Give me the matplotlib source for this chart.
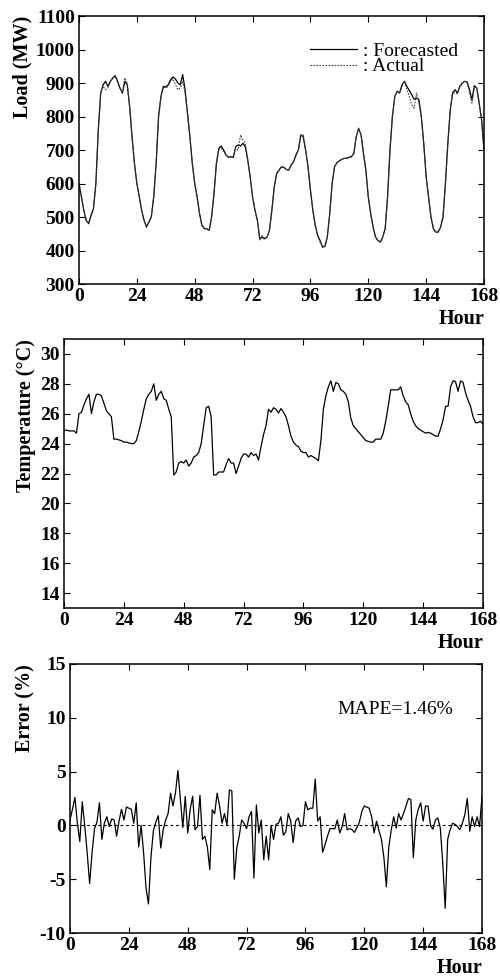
import numpy as np
import matplotlib
matplotlib.use("Agg")
import matplotlib.pyplot as plt

plt.rcParams['font.family'] = ['Liberation Serif', 'DejaVu Serif']
plt.rcParams['axes.unicode_minus'] = False

hours = np.arange(0, 169)
xticks = [0, 24, 48, 72, 96, 120, 144, 168]

load_forecast = [
    600, 560, 520, 490, 480, 505, 525, 600, 760, 870, 895, 905, 890, 905, 915, 922,
    905, 885, 870, 905, 895, 830, 740, 660, 600, 560, 520, 490, 470, 485, 500, 560,
    660, 800, 860, 890, 888, 895, 910, 918, 912, 900, 895, 925, 880, 810, 740, 660,
    600, 560, 510, 475, 465, 465, 460, 500, 570, 660, 705, 712, 700, 685, 678, 680,
    678, 710, 715, 712, 720, 710, 670, 620, 560, 520, 490, 435, 440, 435, 440, 460,
    520, 590, 630, 640, 650, 648, 642, 640, 655, 665, 685, 700, 745, 740, 700, 650,
    580, 520, 475, 445, 430, 410, 412, 440, 510, 600, 650, 662, 668, 672, 675, 675,
    678, 680, 690, 740, 765, 745, 690, 640, 560, 510, 470, 440, 430, 425, 440, 465,
    560, 700, 800, 860, 875, 870, 895, 905, 890, 878, 865, 852, 855, 850, 800, 720,
    620, 560, 500, 465, 455, 455, 470, 500, 600, 720, 820, 870, 880, 870, 890, 900,
    905, 903, 880, 850, 892, 885, 840, 790, 700]

load_actual = [
    600, 560, 520, 490, 482, 505, 525, 600, 760, 870, 890, 880, 885, 905, 915, 920,
    905, 885, 872, 915, 900, 830, 740, 660, 600, 560, 520, 490, 472, 485, 500, 560,
    660, 800, 860, 888, 885, 890, 905, 912, 895, 880, 885, 905, 870, 810, 740, 660,
    600, 560, 510, 475, 468, 465, 462, 500, 570, 660, 700, 705, 695, 685, 678, 678,
    680, 705, 700, 745, 730, 720, 670, 620, 560, 520, 490, 430, 445, 435, 440, 460,
    520, 590, 630, 642, 650, 648, 642, 640, 655, 665, 685, 700, 745, 745, 700, 650,
    580, 520, 475, 445, 425, 415, 410, 440, 510, 600, 650, 662, 668, 672, 675, 675,
    678, 680, 690, 740, 765, 745, 690, 640, 560, 510, 470, 440, 430, 425, 440, 465,
    560, 700, 800, 860, 875, 870, 890, 905, 880, 860, 835, 825, 870, 840, 800, 720,
    620, 560, 500, 465, 455, 455, 470, 500, 600, 720, 820, 875, 868, 870, 890, 900,
    905, 903, 870, 840, 885, 885, 840, 790, 700]

temperature = [
    24.9, 24.9, 24.85, 24.85, 24.85, 24.7, 26.0, 26.1, 26.6, 27.0, 27.3, 26.0, 26.8,
    27.3, 27.3, 27.2, 26.7, 26.2, 26.0, 25.8, 24.3, 24.3, 24.25, 24.2, 24.1, 24.1,
    24.05, 24.0, 24.0, 24.2, 24.8, 25.5, 26.3, 27.0, 27.3, 27.5, 28.0, 26.9, 27.3,
    27.5, 27.0, 26.9, 26.3, 25.8, 21.9, 22.1, 22.7, 22.8, 22.7, 22.9, 22.5, 22.7,
    23.1, 23.2, 23.4, 24.0, 25.2, 26.4, 26.5, 25.8, 21.9, 21.9, 22.1, 22.1, 22.1,
    22.6, 23.0, 22.7, 22.7, 22.0, 22.5, 23.0, 23.3, 23.3, 23.1, 23.4, 23.2, 23.3,
    22.9, 23.8, 24.6, 25.2, 26.3, 26.1, 26.4, 26.3, 26.05, 26.35, 26.1, 25.8, 25.2,
    24.5, 24.1, 23.9, 23.8, 23.5, 23.4, 23.4, 23.1, 23.2, 23.1, 23.0, 22.85, 24.2,
    26.3, 27.2, 27.8, 28.2, 27.5, 28.1, 28.0, 27.6, 27.5, 27.3, 26.8, 25.7, 25.2,
    25.0, 24.8, 24.6, 24.4, 24.2, 24.15, 24.1, 24.1, 24.3, 24.3, 24.3, 24.7, 25.5,
    26.5, 27.6, 27.6, 27.6, 27.6, 27.8, 27.2, 26.8, 26.6, 26.0, 25.5, 25.2, 25.0,
    24.9, 24.8, 24.7, 24.75, 24.7, 24.6, 24.5, 24.5, 25.0, 25.6, 26.5, 26.5, 27.8,
    28.2, 28.15, 27.5, 28.2, 28.1, 27.4, 26.9, 26.5, 25.8, 25.4, 25.4, 25.5, 25.3]

error = [
    0.5, 1.5, 2.6, 0.2, -1.5, 2.2, 0.0, -2.5, -5.4, -2.5, -0.3, 0.3, 2.1, -1.3, 0.2,
    0.8, -0.1, 0.6, 0.5, -1.0, 0.4, 1.5, 0.5, 1.7, 1.6, 1.5, 0.2, 2.1, -2.0, 0.0,
    -2.5, -5.8, -7.3, -3.0, -0.5, 0.3, 0.9, -2.1, -0.4, 0.5, 1.1, 3.0, 1.8, 3.0,
    5.1, 2.5, -0.2, 2.7, -0.7, 1.5, 2.7, -0.4, -0.1, 2.8, -1.3, -1.0, -2.0, -4.1,
    1.45, 1.1, 3.0, 1.8, 0.2, 1.1, 0.0, 3.3, 3.2, -5.0, -2.1, -1.0, 0.5, 0.2, -0.3,
    0.8, 1.3, -4.9, 1.9, -0.7, 0.5, -3.2, -1.0, -3.2, 0.0, -1.3, 0.1, 0.2, 0.8, -0.9,
    -0.6, 1.1, 0.4, -1.6, 0.4, 0.7, -0.1, 0.0, 2.2, 1.45, 1.6, 1.6, 4.3, 0.4, 0.8,
    -2.5, -1.8, -1.0, -0.3, -0.3, -0.3, 0.5, -0.7, -0.1, 1.1, -0.4, -0.3, -0.4, -0.65,
    -0.2, 0.3, 1.3, 1.8, 1.7, 1.6, 0.8, -0.7, 0.4, -0.5, -1.3, -3.0, -5.7, -2.0, -0.4,
    0.8, -0.25, 1.1, 0.5, 1.1, 1.8, 2.5, 2.4, -3.0, 0.5, 1.5, 2.1, 0.4, 1.8, 1.8, 0.0,
    -0.35, 0.5, 0.7, -0.25, -3.5, -7.7, -1.3, -0.4, 0.2, 0.1, -0.1, -0.4, 0.2, 1.0,
    2.5, -0.55, 0.8, -0.1, 0.8, -0.1, 2.7]

mape_text = "MAPE=1.46%"

tick_font = {'family': 'Liberation Serif', 'weight': 'bold', 'size': 14}
label_font = {'family': 'Liberation Serif', 'weight': 'bold', 'size': 14.5}

fig = plt.figure(figsize=(5, 9.77), dpi=100)
ax1 = fig.add_axes([0.158, 0.7093, 0.81, 0.2743])
ax2 = fig.add_axes([0.128, 0.3777, 0.838, 0.2753])
ax3 = fig.add_axes([0.140, 0.0450, 0.824, 0.2754])


def style(ax, yticks):
    ax.set_xlim(0, 168)
    ax.set_xticks(xticks)
    ax.set_yticks(yticks)
    ax.tick_params(direction='in', top=True, right=True, length=4, width=0.8, pad=3)
    for lab in ax.get_xticklabels() + ax.get_yticklabels():
        lab.set_fontproperties(matplotlib.font_manager.FontProperties(**tick_font))
    for sp in ax.spines.values():
        sp.set_linewidth(1.1)
    ax.set_xlabel('Hour', loc='right', labelpad=3, fontdict=label_font)


# load
ax1.plot(hours, load_forecast, color='black', lw=0.9, label=': Forecasted')
ax1.plot(hours, load_actual, color='#444444', lw=0.8, ls=(0, (1.5, 1.2)), label=': Actual')
ax1.set_ylim(300, 1100)
style(ax1, range(300, 1101, 100))
ax1.set_ylabel('Load (MW)', loc='top', labelpad=2.5, fontdict=label_font)
ax1.legend(loc='upper right', frameon=False, handlelength=2.4, handletextpad=0.3,
           labelspacing=-0.12, borderaxespad=0.0, bbox_to_anchor=(0.955, 0.93),
           prop={'family': 'Liberation Serif', 'size': 14})

# temperature
ax2.plot(hours, temperature, color='black', lw=0.9)
ax2.set_ylim(13, 31)
style(ax2, range(14, 31, 2))
ax2.set_ylabel('Temperature (°C)', loc='top', labelpad=3, fontdict=label_font)

# error
ax3.plot(hours, error, color='black', lw=0.9)
ax3.axhline(0, color='black', lw=0.8, ls=(0, (2.5, 2.5)))
ax3.set_ylim(-10, 15)
style(ax3, range(-10, 16, 5))
ax3.set_ylabel('Error (%)', loc='top', labelpad=3, fontdict=label_font)
ax3.text(0.79, 0.83, mape_text, transform=ax3.transAxes, ha='center', va='center',
         family='Liberation Serif', fontsize=14)

fig.savefig('out.png', dpi=100)
